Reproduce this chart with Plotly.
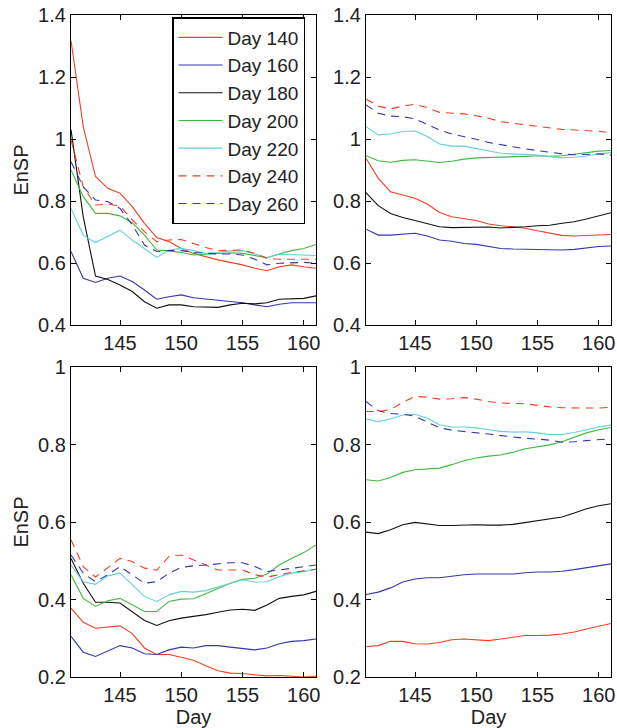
import plotly.graph_objects as go

days = list(range(141, 162))
series_names = ["Day 140", "Day 160", "Day 180", "Day 200", "Day 220", "Day 240", "Day 260"]

# Panel A (top-left)
a_140 = [1.317, 1.04, 0.879, 0.841, 0.825, 0.782, 0.728, 0.682, 0.669, 0.647, 0.631, 0.62, 0.61, 0.602, 0.594, 0.583, 0.575, 0.588, 0.594, 0.588, 0.583]
a_160 = [0.637, 0.551, 0.537, 0.551, 0.558, 0.54, 0.513, 0.483, 0.491, 0.497, 0.488, 0.484, 0.481, 0.477, 0.472, 0.465, 0.459, 0.467, 0.472, 0.472, 0.472]
a_180 = [1.03, 0.749, 0.558, 0.547, 0.529, 0.508, 0.475, 0.454, 0.465, 0.465, 0.459, 0.457, 0.457, 0.465, 0.47, 0.468, 0.472, 0.483, 0.485, 0.486, 0.494]
a_200 = [0.9, 0.814, 0.76, 0.76, 0.752, 0.73, 0.69, 0.642, 0.639, 0.634, 0.626, 0.629, 0.631, 0.633, 0.631, 0.623, 0.617, 0.629, 0.64, 0.647, 0.66]
a_220 = [0.776, 0.69, 0.666, 0.685, 0.706, 0.674, 0.647, 0.618, 0.642, 0.647, 0.64, 0.631, 0.634, 0.639, 0.64, 0.629, 0.618, 0.628, 0.626, 0.626, 0.624]
a_240 = [0.997, 0.846, 0.787, 0.79, 0.784, 0.739, 0.701, 0.669, 0.674, 0.676, 0.663, 0.65, 0.64, 0.642, 0.642, 0.631, 0.615, 0.612, 0.612, 0.612, 0.612]
a_260 = [0.927, 0.846, 0.803, 0.798, 0.776, 0.723, 0.658, 0.637, 0.64, 0.64, 0.634, 0.631, 0.629, 0.629, 0.626, 0.612, 0.594, 0.599, 0.601, 0.602, 0.599]

# Panel B (top-right)
b_140 = [0.938, 0.873, 0.83, 0.819, 0.809, 0.79, 0.763, 0.749, 0.744, 0.737, 0.726, 0.72, 0.717, 0.712, 0.704, 0.696, 0.689, 0.687, 0.689, 0.69, 0.692]
b_160 = [0.709, 0.69, 0.69, 0.694, 0.696, 0.687, 0.674, 0.67, 0.663, 0.66, 0.653, 0.647, 0.645, 0.644, 0.644, 0.642, 0.642, 0.644, 0.649, 0.653, 0.655]
b_180 = [0.827, 0.785, 0.76, 0.747, 0.737, 0.726, 0.717, 0.714, 0.714, 0.716, 0.716, 0.713, 0.714, 0.717, 0.72, 0.722, 0.728, 0.733, 0.742, 0.752, 0.762]
b_200 = [0.946, 0.93, 0.925, 0.931, 0.933, 0.928, 0.924, 0.928, 0.935, 0.939, 0.94, 0.94, 0.941, 0.944, 0.946, 0.944, 0.946, 0.951, 0.957, 0.961, 0.963]
b_220 = [1.04, 1.013, 1.016, 1.024, 1.026, 1.008, 0.984, 0.977, 0.977, 0.97, 0.962, 0.954, 0.952, 0.951, 0.948, 0.943, 0.939, 0.941, 0.945, 0.952, 0.956]
b_240 = [1.129, 1.106, 1.097, 1.106, 1.112, 1.101, 1.086, 1.083, 1.081, 1.075, 1.067, 1.056, 1.051, 1.048, 1.043, 1.037, 1.031, 1.029, 1.027, 1.025, 1.02]
b_260 = [1.11, 1.083, 1.074, 1.072, 1.065, 1.048, 1.029, 1.016, 1.008, 0.999, 0.989, 0.983, 0.975, 0.968, 0.962, 0.956, 0.952, 0.949, 0.951, 0.952, 0.948]

# Panel C (bottom-left)
c_140 = [0.378, 0.341, 0.326, 0.329, 0.332, 0.312, 0.275, 0.258, 0.258, 0.251, 0.243, 0.229, 0.216, 0.21, 0.209, 0.206, 0.203, 0.204, 0.202, 0.2, 0.202]
c_160 = [0.305, 0.264, 0.253, 0.266, 0.281, 0.275, 0.26, 0.258, 0.27, 0.277, 0.275, 0.281, 0.281, 0.277, 0.273, 0.27, 0.275, 0.286, 0.292, 0.294, 0.298]
c_180 = [0.506, 0.442, 0.393, 0.393, 0.391, 0.369, 0.346, 0.333, 0.345, 0.352, 0.356, 0.361, 0.367, 0.373, 0.375, 0.372, 0.386, 0.403, 0.408, 0.412, 0.421]
c_200 = [0.464, 0.403, 0.382, 0.397, 0.403, 0.386, 0.369, 0.369, 0.395, 0.401, 0.402, 0.415, 0.429, 0.442, 0.452, 0.455, 0.466, 0.489, 0.506, 0.521, 0.541]
c_220 = [0.489, 0.446, 0.439, 0.461, 0.468, 0.438, 0.408, 0.395, 0.412, 0.421, 0.419, 0.423, 0.432, 0.442, 0.451, 0.445, 0.446, 0.459, 0.468, 0.472, 0.478]
c_240 = [0.554, 0.485, 0.458, 0.481, 0.506, 0.498, 0.481, 0.476, 0.511, 0.515, 0.502, 0.489, 0.476, 0.476, 0.476, 0.464, 0.458, 0.464, 0.47, 0.474, 0.478]
c_260 = [0.515, 0.468, 0.446, 0.464, 0.485, 0.464, 0.442, 0.446, 0.468, 0.483, 0.487, 0.489, 0.492, 0.495, 0.495, 0.485, 0.472, 0.476, 0.481, 0.485, 0.489]

# Panel D (bottom-right)
d_140 = [0.278, 0.281, 0.292, 0.292, 0.286, 0.285, 0.289, 0.296, 0.298, 0.296, 0.294, 0.298, 0.302, 0.307, 0.307, 0.308, 0.311, 0.316, 0.324, 0.331, 0.338]
d_160 = [0.413, 0.419, 0.43, 0.445, 0.453, 0.456, 0.456, 0.46, 0.464, 0.466, 0.466, 0.466, 0.466, 0.469, 0.471, 0.471, 0.473, 0.477, 0.482, 0.488, 0.492]
d_180 = [0.574, 0.57, 0.58, 0.593, 0.599, 0.595, 0.591, 0.591, 0.592, 0.593, 0.592, 0.592, 0.594, 0.599, 0.604, 0.608, 0.613, 0.623, 0.634, 0.642, 0.647]
d_200 = [0.709, 0.706, 0.715, 0.728, 0.735, 0.737, 0.739, 0.748, 0.758, 0.765, 0.77, 0.773, 0.78, 0.789, 0.794, 0.799, 0.807, 0.819, 0.83, 0.838, 0.844]
d_220 = [0.866, 0.859, 0.866, 0.876, 0.878, 0.868, 0.851, 0.845, 0.845, 0.843, 0.838, 0.834, 0.832, 0.833, 0.83, 0.826, 0.826, 0.831, 0.838, 0.845, 0.85]
d_240 = [0.885, 0.885, 0.89, 0.909, 0.924, 0.922, 0.917, 0.918, 0.921, 0.917, 0.911, 0.907, 0.906, 0.905, 0.901, 0.897, 0.895, 0.894, 0.894, 0.894, 0.896]
d_260 = [0.911, 0.887, 0.88, 0.878, 0.873, 0.857, 0.843, 0.837, 0.834, 0.831, 0.827, 0.823, 0.819, 0.816, 0.814, 0.811, 0.806, 0.807, 0.81, 0.813, 0.815]

x_tickvals = [145, 150, 155, 160]
top_tickvals = [0.4, 0.6, 0.8, 1.0, 1.2, 1.4]
top_ticktext = ["0.4", "0.6", "0.8", "1", "1.2", "1.4"]
bot_tickvals = [0.2, 0.4, 0.6, 0.8, 1.0]
bot_ticktext = ["0.2", "0.4", "0.6", "0.8", "1"]

colors = ["#f2401f", "#3636b0", "#111111", "#3fba3f", "#62d2d2", "#f2401f", "#3636b0"]
dashes = ["solid"] * 5 + ["8px,6px", "8px,6px"]

panels = [
    ([a_140, a_160, a_180, a_200, a_220, a_240, a_260], "x", "y"),
    ([b_140, b_160, b_180, b_200, b_220, b_240, b_260], "x2", "y2"),
    ([c_140, c_160, c_180, c_200, c_220, c_240, c_260], "x3", "y3"),
    ([d_140, d_160, d_180, d_200, d_220, d_240, d_260], "x4", "y4"),
]

fig = go.Figure()
for pi, (series, xa, ya) in enumerate(panels):
    for si, vals in enumerate(series):
        fig.add_trace(go.Scatter(
            x=days, y=vals, mode="lines", name=series_names[si],
            xaxis=xa, yaxis=ya, showlegend=(pi == 0),
            line=dict(color=colors[si], width=1.1, dash=dashes[si]),
        ))

# body margin is removed by post_script, so figure pixels == page pixels
W, H = 617, 728
font = dict(family="Liberation Sans, Arial, Helvetica, sans-serif", size=20, color="#222")

def px_x(p):
    return p / W

def px_y(p):
    return 1 - p / H

common = dict(ticks="inside", ticklen=5, tickcolor="black", automargin=False,
              ticklabeloverflow="allow", showline=True, linecolor="black",
              linewidth=1.2, mirror="ticks", showgrid=False, zeroline=False, tickfont=font)

def xax(l, r, anchor, title=None):
    d = dict(domain=[px_x(l), px_x(r)], range=[141, 161], anchor=anchor,
             tickvals=x_tickvals, **common)
    if title:
        d["title"] = dict(text=title, font=font, standoff=0)
    return d

def yax(t, b, anchor, tv, tt, rng, title=None):
    d = dict(domain=[px_y(b), px_y(t)], range=rng, anchor=anchor,
             tickvals=tv, ticktext=tt, **common)
    if title:
        d["title"] = dict(text=title, font=font, standoff=4)
    return d

fig.update_layout(
    width=W, height=H,
    margin=dict(l=0, r=0, t=0, b=0, autoexpand=False),
    paper_bgcolor="white", plot_bgcolor="white",
    font=font,
    xaxis=xax(71, 316, "y"),
    yaxis=yax(15, 325, "x", top_tickvals, top_ticktext, [0.4, 1.4], "EnSP"),
    xaxis2=xax(366, 611, "y2"),
    yaxis2=yax(15, 325, "x2", top_tickvals, top_ticktext, [0.4, 1.4]),
    xaxis3=xax(71, 316, "y3", "Day"),
    yaxis3=yax(367, 677, "x3", bot_tickvals, bot_ticktext, [0.2, 1.0], "EnSP"),
    xaxis4=xax(366, 611, "y4", "Day"),
    yaxis4=yax(367, 677, "x4", bot_tickvals, bot_ticktext, [0.2, 1.0]),
    legend=dict(x=px_x(172), y=px_y(17), xanchor="left", yanchor="top",
                bgcolor="white", bordercolor="black", borderwidth=1.5,
                font=dict(family=font["family"], size=19, color="#222"),
                tracegroupgap=0, itemwidth=44),
    showlegend=True,
)

fig.write_html("out.html", config={"displayModeBar": False},
               post_script="document.body.style.margin='0';document.body.style.overflow='hidden';")
